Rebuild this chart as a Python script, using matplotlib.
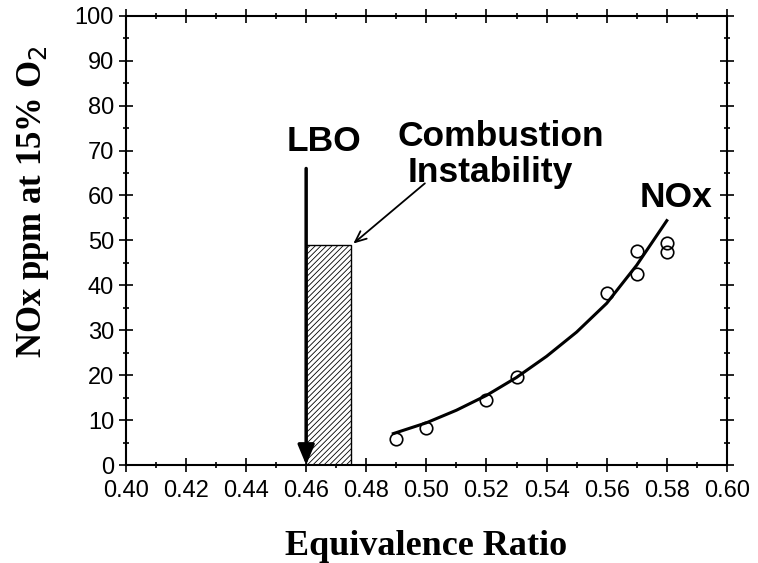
import matplotlib.pyplot as plt
from matplotlib.ticker import MultipleLocator

# medidas (pontos)
phi_pts = [0.49, 0.50, 0.52, 0.53, 0.56, 0.57, 0.57, 0.58, 0.58]
nox_pts = [5.7, 8.3, 14.4, 19.5, 38.4, 47.6, 42.5, 49.4, 47.5]

# curva ajustada
phi_fit = [0.489, 0.50, 0.51, 0.52, 0.53, 0.54, 0.55, 0.56, 0.57, 0.58]
nox_fit = [7.0, 9.4, 12.2, 15.5, 19.5, 24.2, 29.6, 36.0, 44.5, 54.4]

# regiao de instabilidade
inst_x0 = 0.46
inst_x1 = 0.475
inst_top = 49

lbo_phi = 0.46
lbo_top = 66

plt.rcParams['hatch.linewidth'] = 0.6

fig = plt.figure(figsize=(7.58, 5.63), dpi=100)
ax = fig.add_axes([0.166, 0.174, 0.793, 0.798])

ax.bar(inst_x0, inst_top, width=inst_x1 - inst_x0, align='edge',
       facecolor='white', edgecolor='black', hatch='//////', linewidth=1.0, zorder=2)

ax.plot(phi_fit, nox_fit, color='black', lw=2.2, zorder=3)
ax.plot(phi_pts, nox_pts, 'o', mfc='none', mec='black', ms=9, mew=1.2, zorder=4)

ax.annotate('', xy=(lbo_phi, 0), xytext=(lbo_phi, lbo_top),
            arrowprops=dict(arrowstyle='-|>,head_length=1.2,head_width=0.5',
                            color='black', lw=2.5, shrinkA=0, shrinkB=0), zorder=5)

fonte = dict(fontsize=25.5, fontweight='bold', family='Liberation Sans',
             ha='left', va='baseline')
ax.text(0.4535, 70, 'LBO', **fonte)
ax.text(0.4905, 71, 'Combustion', **fonte)
ax.text(0.4938, 63, 'Instability', **fonte)
ax.text(0.571, 57.4, 'NOx', **fonte)

ax.annotate('', xy=(0.4757, 49.3), xytext=(0.4995, 62.7),
            arrowprops=dict(arrowstyle='->,head_length=0.8,head_width=0.35',
                            color='black', lw=1.3, shrinkA=0, shrinkB=0))

ax.set_xlim(0.40, 0.60)
ax.set_ylim(0, 100)
ax.xaxis.set_major_locator(MultipleLocator(0.02))
ax.xaxis.set_minor_locator(MultipleLocator(0.01))
ax.yaxis.set_major_locator(MultipleLocator(10))
ax.yaxis.set_minor_locator(MultipleLocator(5))
ax.set_xticklabels([f'{v:.2f}' for v in ax.get_xticks()])

ax.tick_params(which='both', direction='inout', top=True, right=True,
               labelsize=17, width=1.2)
ax.tick_params(which='major', length=10)
ax.tick_params(which='minor', length=5)
ax.tick_params(axis='x', pad=6)
for lab in ax.get_xticklabels() + ax.get_yticklabels():
    lab.set_family('Liberation Sans')
for s in ax.spines.values():
    s.set_linewidth(1.5)

ax.set_xlabel('Equivalence Ratio', fontsize=26, fontweight='bold',
              family='Liberation Serif', labelpad=20)
ax.set_ylabel('NOx ppm at 15% O$_2$', fontsize=25, fontweight='bold',
              family='Liberation Serif')
ax.yaxis.set_label_coords(-0.125, 0.586)

fig.savefig('out.png', dpi=100)
